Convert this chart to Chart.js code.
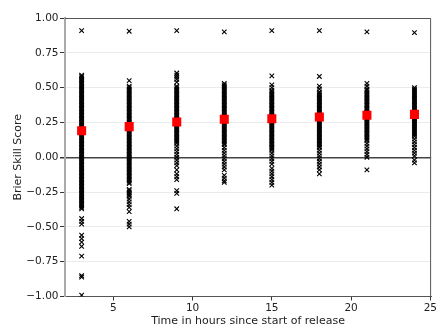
<!DOCTYPE html>
<html>
<head>
<meta charset="utf-8">
<script src="https://cdn.jsdelivr.net/npm/chart.js@4"></script>
<style>
    html, body { margin: 0; padding: 0; background: #fff; }
    #wrap { width: 438px; height: 328px; }
</style>
</head>
<body>
<div id="wrap"><canvas id="bss" width="438" height="328"></canvas></div>
<script>
// Hours since start of release (x position of each group)
var hours = [3, 6, 9, 12, 15, 18, 21, 24];

// Brier skill score samples, one list per hour.
// The solid black bands are many overlapping crosses, so they are listed densely.
var bss03 = [0.91, 0.59,
    0.58, 0.57, 0.56, 0.55, 0.54, 0.53, 0.52, 0.51, 0.50, 0.49, 0.48, 0.47, 0.46, 0.45, 0.44, 0.43,
    0.42, 0.41, 0.40, 0.39, 0.38, 0.37, 0.36, 0.35, 0.34, 0.33, 0.32, 0.31, 0.30, 0.29, 0.28, 0.27,
    0.26, 0.25, 0.24, 0.23, 0.22, 0.21, 0.20, 0.19, 0.18, 0.17, 0.16, 0.15, 0.14, 0.13, 0.12, 0.11,
    0.10, 0.09, 0.08, 0.07, 0.06, 0.05, 0.04, 0.03, 0.02, 0.01, 0.00, -0.01, -0.02, -0.03, -0.04,
    -0.05, -0.06, -0.07, -0.08, -0.09, -0.10, -0.11, -0.12, -0.13, -0.14, -0.15, -0.16, -0.17, -0.18,
    -0.19, -0.20, -0.21, -0.22, -0.23, -0.24, -0.25, -0.26, -0.27, -0.28, -0.29, -0.30, -0.31, -0.32,
    -0.33, -0.34, -0.35, -0.36, -0.37,
    -0.44, -0.46, -0.48, -0.56, -0.585, -0.61, -0.64, -0.71, -0.85, -0.86, -0.99];
var bss06 = [0.905, 0.55,
    0.51, 0.50, 0.49, 0.48, 0.47, 0.46, 0.45, 0.44, 0.43, 0.42, 0.41, 0.40, 0.39, 0.38, 0.37, 0.36,
    0.35, 0.34, 0.33, 0.32, 0.31, 0.30, 0.29, 0.28, 0.27, 0.26, 0.25, 0.24, 0.23, 0.22, 0.21, 0.20,
    0.19, 0.18, 0.17, 0.16, 0.15, 0.14, 0.13, 0.12, 0.11, 0.10, 0.09, 0.08, 0.07, 0.06, 0.05, 0.04,
    0.03, 0.02, 0.01, 0.00, -0.01, -0.02, -0.03, -0.04, -0.05, -0.06, -0.07, -0.08, -0.09, -0.10,
    -0.11, -0.12, -0.13, -0.14, -0.15, -0.16, -0.17, -0.18, -0.19,
    -0.23, -0.24, -0.25, -0.26, -0.27, -0.28, -0.30, -0.32, -0.34, -0.36, -0.39, -0.46, -0.48, -0.50];
var bss09 = [0.91, 0.605, 0.59, 0.575, 0.56, 0.54, 0.51,
    0.50, 0.49, 0.48, 0.47, 0.46, 0.45, 0.44, 0.43, 0.42, 0.41, 0.40, 0.39, 0.38, 0.37, 0.36, 0.35,
    0.34, 0.33, 0.32, 0.31, 0.30, 0.29, 0.28, 0.27, 0.26, 0.25, 0.24, 0.23, 0.22, 0.21, 0.20, 0.19,
    0.18, 0.17, 0.16, 0.15, 0.14, 0.13, 0.12, 0.11, 0.10,
    0.08, 0.06, 0.04, 0.02, 0.00, -0.02, -0.04, -0.06, -0.09, -0.12, -0.14, -0.16, -0.24, -0.26, -0.37];
var bss12 = [0.90, 0.53,
    0.52, 0.51, 0.50, 0.49, 0.48, 0.47, 0.46, 0.45, 0.44, 0.43, 0.42, 0.41, 0.40, 0.39, 0.38, 0.37,
    0.36, 0.35, 0.34, 0.33, 0.32, 0.31, 0.30, 0.29, 0.28, 0.27, 0.26, 0.25, 0.24, 0.23, 0.22, 0.21,
    0.20, 0.19, 0.18, 0.17, 0.16, 0.15, 0.14, 0.13, 0.12, 0.11, 0.10, 0.09,
    0.07, 0.05, 0.03, 0.01, -0.01, -0.03, -0.05, -0.07, -0.09, -0.13, -0.15, -0.17, -0.18];
var bss15 = [0.91, 0.585, 0.52, 0.50,
    0.48, 0.47, 0.46, 0.45, 0.44, 0.43, 0.42, 0.41, 0.40, 0.39, 0.38, 0.37, 0.36, 0.35, 0.34, 0.33,
    0.32, 0.31, 0.30, 0.29, 0.28, 0.27, 0.26, 0.25, 0.24, 0.23, 0.22, 0.21, 0.20, 0.19, 0.18, 0.17,
    0.16, 0.15, 0.14, 0.13, 0.12, 0.11, 0.10, 0.09, 0.08, 0.07, 0.06, 0.05,
    0.03, 0.01, -0.01, -0.03, -0.05, -0.08, -0.10, -0.12, -0.14, -0.16, -0.18, -0.20];
var bss18 = [0.91, 0.58, 0.51, 0.49,
    0.47, 0.46, 0.45, 0.44, 0.43, 0.42, 0.41, 0.40, 0.39, 0.38, 0.37, 0.36, 0.35, 0.34, 0.33, 0.32,
    0.31, 0.30, 0.29, 0.28, 0.27, 0.26, 0.25, 0.24, 0.23, 0.22, 0.21, 0.20, 0.19, 0.18, 0.17, 0.16,
    0.15, 0.14, 0.13, 0.12, 0.11, 0.10, 0.09, 0.08, 0.07,
    0.05, 0.03, 0.01, -0.01, -0.03, -0.05, -0.07, -0.09, -0.12];
var bss21 = [0.90, 0.53, 0.51, 0.49,
    0.48, 0.47, 0.46, 0.45, 0.44, 0.43, 0.42, 0.41, 0.40, 0.39, 0.38, 0.37, 0.36, 0.35, 0.34, 0.33,
    0.32, 0.31, 0.30, 0.29, 0.28, 0.27, 0.26, 0.25, 0.24, 0.23, 0.22, 0.21, 0.20, 0.19, 0.18, 0.17,
    0.16, 0.15, 0.14, 0.13, 0.12,
    0.10, 0.08, 0.06, 0.04, 0.02, 0.00, -0.09];
var bss24 = [0.895,
    0.50, 0.49, 0.48, 0.47, 0.46, 0.45, 0.44, 0.43, 0.42, 0.41, 0.40, 0.39, 0.38, 0.37, 0.36, 0.35,
    0.34, 0.33, 0.32, 0.31, 0.30, 0.29, 0.28, 0.27, 0.26, 0.25, 0.24, 0.23, 0.22, 0.21, 0.20, 0.19,
    0.18, 0.17, 0.16, 0.15,
    0.13, 0.11, 0.09, 0.07, 0.05, 0.03, 0.01, -0.02, -0.04];

// Mean skill score per hour (red squares)
var bssMean = [0.19, 0.22, 0.253, 0.273, 0.277, 0.289, 0.301, 0.308];

// Axis ticks
var xTicks = [5, 10, 15, 20, 25];
var yTicks = [-1, -0.75, -0.5, -0.25, 0, 0.25, 0.5, 0.75, 1];

var samplesByHour = [bss03, bss06, bss09, bss12, bss15, bss18, bss21, bss24];

var samplePoints = [];
for (var i = 0; i < hours.length; i++) {
    for (var j = 0; j < samplesByHour[i].length; j++) {
        samplePoints.push({ x: hours[i], y: samplesByHour[i][j] });
    }
}
var meanPoints = [];
for (var k = 0; k < hours.length; k++) {
    meanPoints.push({ x: hours[k], y: bssMean[k] });
}

function fmtTick(v) {
    var s = Number(v).toFixed(2);
    return s.charAt(0) === '-' ? '\u2212' + s.slice(1) : s;
}

// top + right spines (matplotlib style box)
var frame = {
    id: 'frame',
    afterDraw: function (chart) {
        var a = chart.chartArea, ctx = chart.ctx;
        ctx.save();
        ctx.strokeStyle = '#555';
        ctx.lineWidth = 1;
        ctx.beginPath();
        ctx.moveTo(a.left, a.top + 0.5);
        ctx.lineTo(a.right - 0.5, a.top + 0.5);
        ctx.lineTo(a.right - 0.5, a.bottom);
        ctx.stroke();
        ctx.restore();
    }
};

Chart.defaults.font.family = '"DejaVu Sans", sans-serif';
Chart.defaults.font.size = 10.5;
Chart.defaults.color = '#222';

new Chart(document.getElementById('bss'), {
    type: 'scatter',
    data: {
        datasets: [{
            label: 'mean',
            data: meanPoints,
            order: 0,
            pointStyle: 'rect',
            pointRadius: 6.4,
            backgroundColor: '#ff0000',
            borderColor: '#ff0000',
            borderWidth: 0
        }, {
            label: 'samples',
            data: samplePoints,
            order: 1,
            pointStyle: 'crossRot',
            pointRadius: 3.2,
            borderColor: '#000',
            borderWidth: 1.1
        }]
    },
    options: {
        responsive: false,
        animation: false,
        layout: { padding: { top: 18, right: 5, left: 0, bottom: 0 } },
        plugins: { legend: { display: false }, tooltip: { enabled: false } },
        scales: {
            x: {
                type: 'linear',
                min: 1.95,
                max: 25.05,
                afterBuildTicks: function (s) { s.ticks = xTicks.map(function (v) { return { value: v }; }); },
                afterFit: function (s) { s.height = 31.5; },
                grid: { drawOnChartArea: false, tickLength: 4, tickColor: '#333' },
                border: { color: '#555', width: 1 },
                ticks: { padding: 1, maxRotation: 0, callback: function (v) { return String(v); } },
                title: {
                    display: true, text: 'Time in hours since start of release',
                    font: { size: 11 }, padding: { top: 0, bottom: 0 }
                }
            },
            y: {
                min: -1,
                max: 1,
                afterBuildTicks: function (s) { s.ticks = yTicks.map(function (v) { return { value: v }; }); },
                afterFit: function (s) { s.width = 65; },
                grid: {
                    color: function (c) { return c.tick && c.tick.value === 0 ? '#444' : '#ebebeb'; },
                    lineWidth: function (c) { return c.tick && c.tick.value === 0 ? 1.5 : 1; },
                    tickLength: 5,
                    tickColor: '#333'
                },
                border: { color: '#aaa', width: 2 },
                ticks: { padding: 1.5, callback: fmtTick },
                title: {
                    display: true, text: 'Brier Skill Score',
                    font: { size: 11 }, padding: { top: 11.4, bottom: 0 }
                }
            }
        }
    },
    plugins: [frame]
});
</script>
</body>
</html>
